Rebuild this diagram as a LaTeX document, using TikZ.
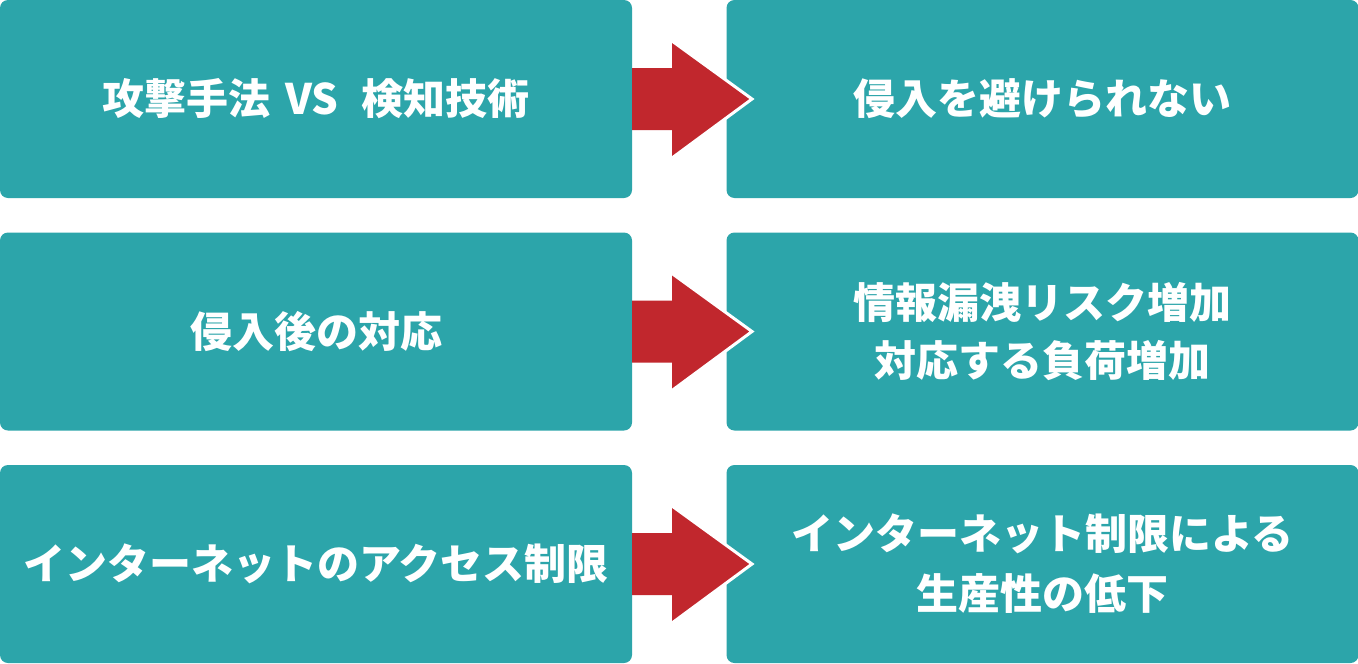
\documentclass[tikz,border=0pt]{standalone}
\usepackage{fontspec}
\setmainfont{Noto Sans CJK JP}
\usetikzlibrary{calc}
\definecolor{teal}{HTML}{2CA5AA}
\definecolor{arrowred}{HTML}{C1272D}
\tikzset{
  box/.style={fill=teal, rounded corners=8pt, minimum width=632pt, minimum height=198pt,
    inner sep=0pt, outer sep=0pt, text=white, align=center,
    font=\fontsize{42}{60}\selectfont\bfseries},
  bigarrow/.style={fill=arrowred},
  tipline/.style={draw=white, line width=3pt, line join=miter}
}
\begin{document}
\begin{tikzpicture}[x=1pt,y=-1pt]
\useasboundingbox[fill=white] (0,0) rectangle (1358,664);
\node[box] (l1) at (316,99) {攻撃手法\hspace{0.35em}VS\hspace{0.55em}検知技術};
\node[box] (l2) at (316,331.5) {侵入後の対応};
\node[box] (l3) at (316,564) {インターネットのアクセス制限};
\node[box] (r1) at (1042.5,99) {侵入を避けられない};
\node[box] (r2) at (1042.5,331.5) {情報漏洩リスク増加\\[-2pt]対応する負荷増加};
\node[box] (r3) at (1042.5,564) {インターネット制限による\\生産性の低下};
\foreach \a in {1,2,3}{
  \fill[bigarrow] (l\a.east) ++(0,-31) -- ++(40,0) -- ++(0,-27) -- ++(80,58) -- ++(-80,59) -- ++(0,-28) -- ++(-40,0) -- cycle;
  \draw[tipline] (l\a.east) ++(40,-58) -- ++(80,58) -- ++(-80,59);
}
\end{tikzpicture}
\end{document}
